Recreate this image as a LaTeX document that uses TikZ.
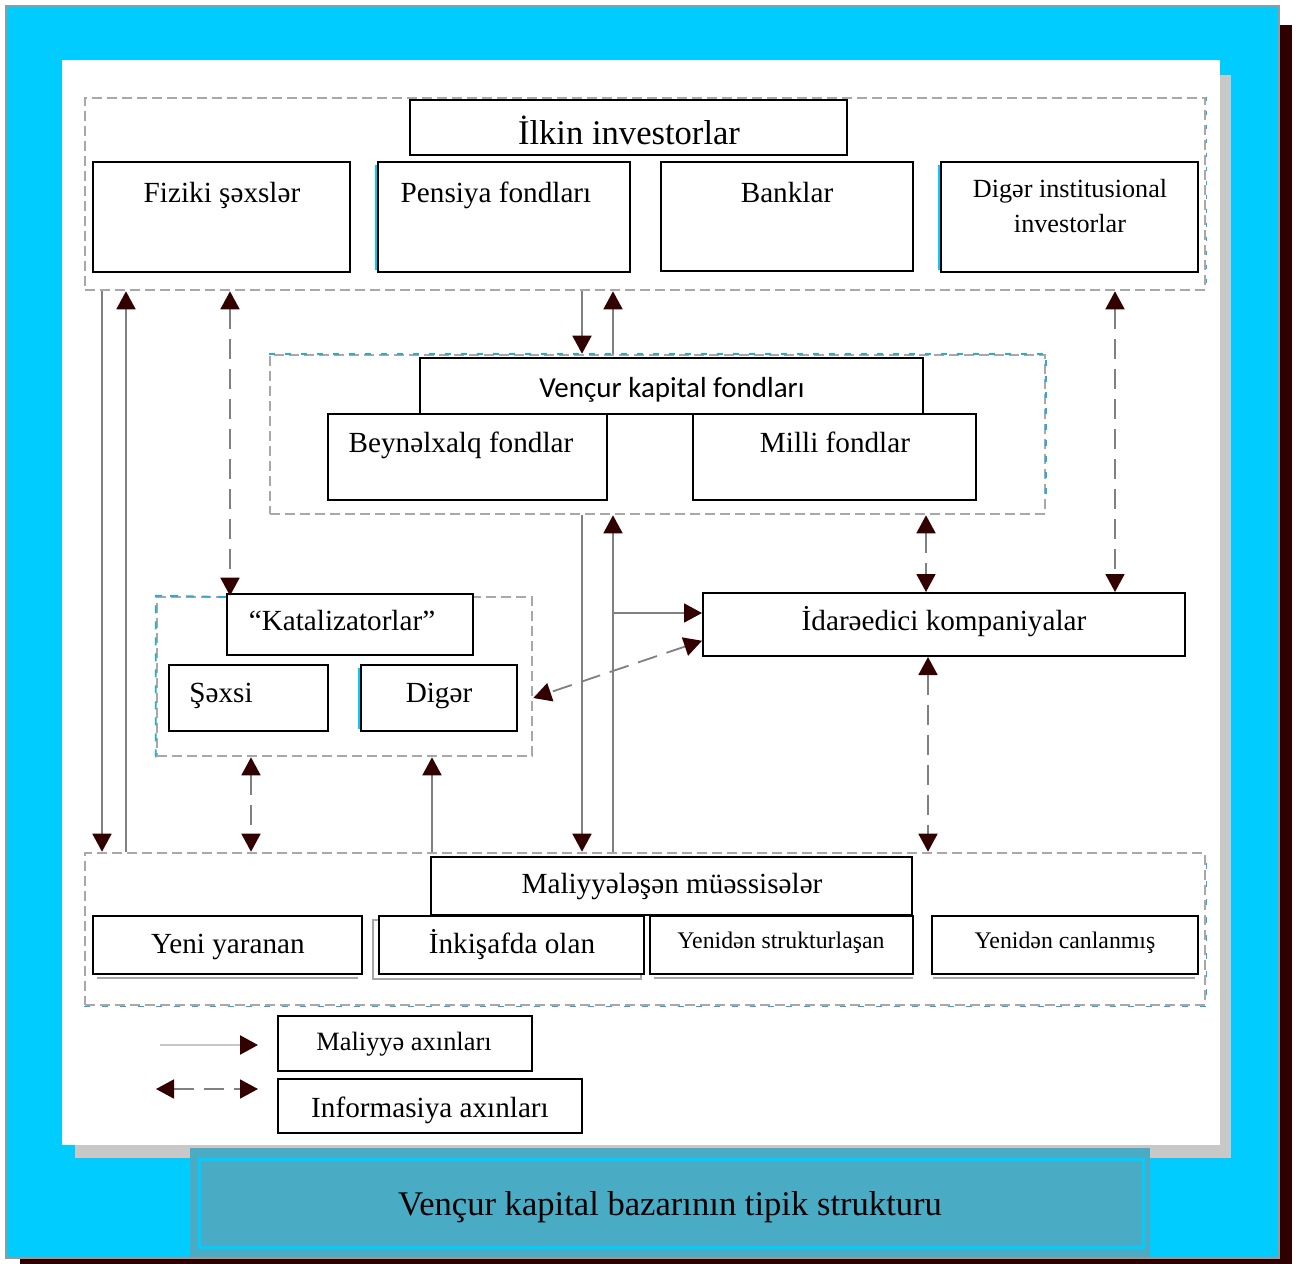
\documentclass[tikz,border=0pt]{standalone}
\usepackage{fontspec}
\setmainfont{Liberation Serif}
\newfontfamily\sansfund{Carlito}
\usetikzlibrary{arrows.meta,fit,calc}

\definecolor{frameCyan}{HTML}{00CCFF}
\definecolor{shadowDark}{HTML}{2E0000}
\definecolor{panelShadow}{HTML}{C8C8C8}
\definecolor{capTeal}{HTML}{4AABC5}
\definecolor{grpGray}{HTML}{A8A8A8}
\definecolor{lineGray}{HTML}{808080}
\definecolor{tipBrown}{HTML}{330000}
\definecolor{dashBlue}{HTML}{2BA8DC}

\begin{document}
\begin{tikzpicture}[x=0.5pt,y=-0.5pt,
  box/.style={draw=black, line width=1pt, fill=white, inner sep=0pt},
  grp/.style={draw=grpGray, line width=1.3pt, dash pattern=on 5pt off 2.5pt, inner sep=0pt},
  lbl/.style={anchor=base, inner sep=0pt, font=\fontsize{14.6}{17}\selectfont},
  fin/.style={draw=lineGray, line width=0.9pt, -{Triangle[width=9.5pt,length=9pt,color=tipBrown]}},
  info/.style={draw=lineGray, line width=0.9pt, dash pattern=on 10pt off 5pt,
    {Triangle[width=9.5pt,length=9pt,color=tipBrown]}-{Triangle[width=9.5pt,length=9pt,color=tipBrown]}},
  boxshade/.style={draw=gray!70, line width=0.8pt},
]

% page, framed background and panel
\fill[white] (0,0) rectangle (1302,1264);
\useasboundingbox (0,0) rectangle (1302,1264);
\fill[shadowDark] (20,25) rectangle (1292,1264);
\filldraw[fill=frameCyan, draw=gray!80, line width=0.6pt] (6,6) rectangle (1279,1258);
\fill[panelShadow] (75,75) rectangle (1231,1158);
\fill[white] (62,60) rectangle (1220,1145);

% caption band
\node[fill=capTeal, inner sep=0pt, fit={(190,1148) (1150,1257)}] (capband) {};
\node[draw=frameCyan, line width=1.5pt, fill=capTeal, inner sep=0pt, fit={(199,1159) (1143,1247)}] (capbox) {};
\node[lbl, font=\fontsize{17.3}{20}\selectfont] (captxt) at (670,1215) {Vençur kapital bazarının tipik strukturu};

% dashed groups
\node[grp, fit={(85,98) (1205,290)}] (topgrp) {};
\node[grp, fit={(270,355) (1045,514)}] (vcgrp) {};
\node[grp, fit={(157,597) (532,756)}] (katgrp) {};
\node[grp, fit={(85,853) (1205,1005)}] (botgrp) {};
\draw[dashBlue, line width=0.9pt, dash pattern=on 3pt off 5pt] (vcgrp.north west) -- (vcgrp.north east) -- ($(vcgrp.south east)+(0,-12)$);
\draw[dashBlue, line width=0.9pt, dash pattern=on 4pt off 4pt] (katgrp.south west) -- (katgrp.north west) -- (227,597);
\draw[dashBlue, line width=0.7pt, dash pattern=on 2pt off 5pt] (topgrp.north east) -- (topgrp.south east);
\draw[dashBlue, line width=0.7pt, dash pattern=on 3pt off 6pt] (botgrp.south west) -- (botgrp.south east) -- (botgrp.north east);

% initial investors
\node[box, fit={(410,100) (847,155)}] (ilkin) {};
\node[lbl, font=\fontsize{17.3}{20}\selectfont] (ilkin-t) at (629,144) {İlkin investorlar};
\node[box, fit={(93,162) (350,272)}] (fiz) {};
\node[lbl] (fiz-t) at (222,202) {Fiziki şəxslər};
\draw[frameCyan, line width=0.8pt] (376,165) -- (376,270);
\node[box, fit={(378,162) (630,272)}] (pens) {};
\node[lbl] (pens-t) at (496,202) {Pensiya fondları};
\node[box, fit={(661,162) (913,271)}] (bank) {};
\node[lbl] (bank-t) at (787,202) {Banklar};
\draw[frameCyan, line width=0.8pt] (939,165) -- (939,270);
\node[box, fit={(941,162) (1198,272)}] (diginst) {};
\node[lbl, font=\fontsize{13.1}{15}\selectfont] (diginst-t1) at (1070,197) {Digər institusional};
\node[lbl, font=\fontsize{13.1}{15}\selectfont] (diginst-t2) at (1070,232) {investorlar};

% venture funds
\node[box, fit={(420,358) (923,414)}] (vcf) {};
\node[lbl, font=\sansfund\fontsize{14.5}{17}\selectfont] (vcf-t) at (672,397) {Vençur kapital fondları};
\node[box, fit={(328,414) (607,500)}] (intl) {};
\node[lbl] (intl-t) at (461,452) {Beynəlxalq fondlar};
\node[box, fit={(693,414) (976,500)}] (natl) {};
\node[lbl] (natl-t) at (835,452) {Milli fondlar};

% catalysts
\node[box, fit={(227,594) (473,655)}] (kat) {};
\node[lbl] (kat-t) at (342,630) {“Katalizatorlar”};
\node[box, fit={(169,665) (328,731)}] (sxs) {};
\node[lbl] (sxs-t) at (221,702) {Şəxsi};
\draw[frameCyan, line width=0.8pt] (359,668) -- (359,729);
\node[box, fit={(361,665) (517,731)}] (dgr) {};
\node[lbl] (dgr-t) at (439,702) {Digər};

% management companies
\node[box, fit={(703,593) (1185,656)}] (ido) {};
\node[lbl] (ido-t) at (944,630) {İdarəedici kompaniyalar};

% financed enterprises
\node[box, fit={(431,857) (912,915)}] (mal) {};
\node[lbl] (mal-t) at (672,893) {Maliyyələşən müəssisələr};
\draw[boxshade] (97,978) -- (358,978);
\node[box, fit={(93,916) (362,974)}] (yeni) {};
\node[lbl] (yeni-t) at (228,953) {Yeni yaranan};
\draw[boxshade, fill=white] (373,920) rectangle (641,979);
\node[box, fit={(379,916) (644,974)}] (inks) {};
\node[lbl] (inks-t) at (512,953) {İnkişafda olan};
\draw[boxshade] (654,978) -- (913,978);
\node[box, fit={(650,916) (913,974)}] (strk) {};
\node[lbl, font=\fontsize{11.9}{14}\selectfont] (strk-t) at (781,948) {Yenidən strukturlaşan};
\draw[boxshade] (933,978) -- (1195,978);
\node[box, fit={(932,916) (1198,974)}] (canl) {};
\node[lbl, font=\fontsize{11.9}{14}\selectfont] (canl-t) at (1065,948) {Yenidən canlanmış};

% legend
\node[box, fit={(278,1016) (532,1071)}] (lgfin) {};
\node[lbl, font=\fontsize{13.2}{15}\selectfont] (lgfin-t) at (404,1050) {Maliyyə axınları};
\node[box, fit={(278,1079) (582,1133)}] (lginf) {};
\node[lbl] (lginf-t) at (430,1117) {Informasiya axınları};
\coordinate (lf0) at (160,1045);
\coordinate (lf1) at (258,1045);
\coordinate (li0) at (156,1089);
\coordinate (li1) at (258,1089);
\draw[fin, draw=gray!45, line width=1.2pt] (lf0) -- (lf1);
\draw[info] (li0) -- (li1);

% connector columns
\coordinate (xa) at (102,0);
\coordinate (xb) at (126,0);
\coordinate (xc) at (230,0);
\coordinate (xd) at (582,0);
\coordinate (xe) at (613,0);
\coordinate (xf) at (1115,0);
\coordinate (xi) at (926,0);
\coordinate (xk) at (251,0);
\coordinate (xl) at (432,0);
\coordinate (xm) at (928,0);
\coordinate (split) at (613,613);

% financial flows
\draw[fin] (topgrp.south -| xa) -- (botgrp.north -| xa);
\draw[fin] (botgrp.north -| xb) -- (topgrp.south -| xb);
\draw[fin] (topgrp.south -| xd) -- (vcgrp.north -| xd);
\draw[fin] (vcgrp.north -| xe) -- (topgrp.south -| xe);
\draw[fin] (vcgrp.south -| xd) -- (botgrp.north -| xd);
\draw[fin] (botgrp.north -| xe) -- (vcgrp.south -| xe);
\draw[fin] (split) -- (ido.west |- split);
\draw[fin] (botgrp.north -| xl) -- (katgrp.south -| xl);

% information flows
\draw[info] (topgrp.south -| xc) -- (katgrp.north -| xc);
\draw[info] (topgrp.south -| xf) -- (ido.north -| xf);
\draw[info] (vcgrp.south -| xi) -- (ido.north -| xi);
\draw[info] ($(ido.west)!0.5!(ido.south west)$) -- (katgrp.east |- dgr);
\draw[info] (katgrp.south -| xk) -- (botgrp.north -| xk);
\draw[info] (ido.south -| xm) -- (botgrp.north -| xm);

\end{tikzpicture}
\end{document}
